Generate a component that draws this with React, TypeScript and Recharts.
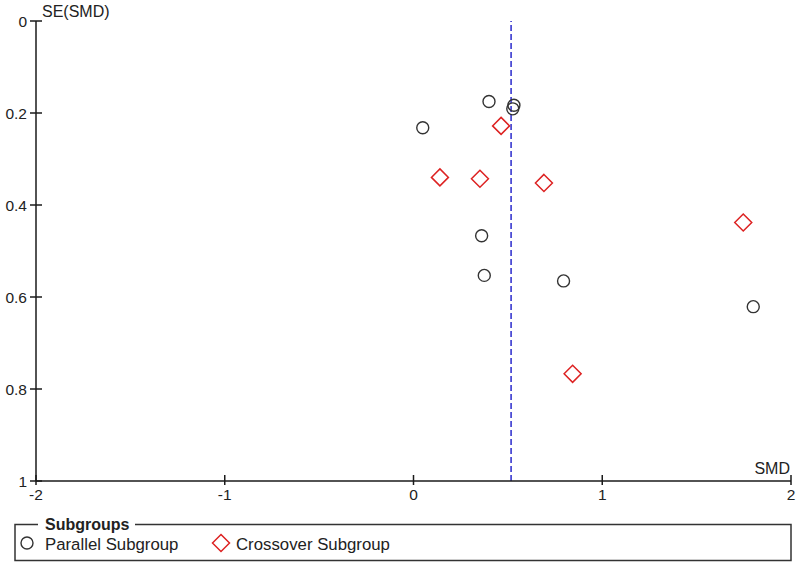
import React from 'react';
import { ScatterChart, Scatter, XAxis, YAxis, ReferenceLine } from 'recharts';

const parallelSMD = [0.4, 0.532, 0.526, 0.049, 0.361, 0.375, 0.795, 1.8];
const parallelSE = [0.175, 0.183, 0.191, 0.232, 0.467, 0.553, 0.565, 0.621];
const crossoverSMD = [0.464, 0.14, 0.352, 0.691, 1.747, 0.843];
const crossoverSE = [0.228, 0.34, 0.343, 0.352, 0.438, 0.767];
const pooledSMD = 0.517;
const xTicks = [-2, -1, 0, 1, 2];
const yTicks = [0, 0.2, 0.4, 0.6, 0.8, 1];
const seriesNames = ['Parallel Subgroup', 'Crossover Subgroup'];
const legendTitle = 'Subgroups';
const xTitle = 'SMD';
const yTitle = 'SE(SMD)';

const parallelData = parallelSMD.map((x, i) => ({ x, y: parallelSE[i] }));
const crossoverData = crossoverSMD.map((x, i) => ({ x, y: crossoverSE[i] }));

const FONT = '"Liberation Sans", Arial, sans-serif';
const TEXT = '#222';
const AXIS = '#1a1a1a';
const RED = '#dd2222';
const CIRCLE = '#333';
const BLUE = '#2a2acc';

const CircleShape = (p: any) => (
  <circle cx={p.cx} cy={p.cy} r={6} fill="none" stroke={CIRCLE} strokeWidth={1.4} />
);
const DiamondShape = (p: any) => {
  const s = 8.5;
  return (
    <path
      d={`M${p.cx},${p.cy - s}L${p.cx + s},${p.cy}L${p.cx},${p.cy + s}L${p.cx - s},${p.cy}Z`}
      fill="none"
      stroke={RED}
      strokeWidth={1.5}
    />
  );
};

const YTick = (p: any) => (
  <g>
    <line x1={p.x - 6} x2={p.x + 6} y1={p.y} y2={p.y} stroke={AXIS} strokeWidth={1.5} />
    <text x={p.x - 9} y={p.y + 5.5} textAnchor="end" fontSize={15.5} fontFamily={FONT} fill={TEXT}>
      {String(p.payload.value)}
    </text>
  </g>
);
const XTick = (p: any) => (
  <g>
    <line x1={p.x} x2={p.x} y1={p.y - 6} y2={p.y + 4} stroke={AXIS} strokeWidth={1.5} />
    <text x={p.x} y={p.y + 19} textAnchor="middle" fontSize={15.5} fontFamily={FONT} fill={TEXT}>
      {String(p.payload.value)}
    </text>
  </g>
);

const XTitle = (p: any) => {
  const vb = p.viewBox || {};
  return (
    <text x={vb.x + vb.width - 1} y={vb.y - 7} textAnchor="end" fontSize={16} fontFamily={FONT} fill={TEXT}>
      {xTitle}
    </text>
  );
};
const YTitle = (p: any) => {
  const vb = p.viewBox || {};
  return (
    <text x={vb.x + vb.width + 6} y={vb.y - 4} textAnchor="start" fontSize={16} fontFamily={FONT} fill={TEXT}>
      {yTitle}
    </text>
  );
};

export default function App() {
  return (
    <div style={{ position: 'absolute', left: 0, top: 0, width: 800, height: 567, background: '#fff' }}>
      <ScatterChart width={800} height={567} margin={{ top: 21, right: 9, bottom: 56, left: 0 }}>
        <XAxis
          type="number"
          dataKey="x"
          domain={[-2, 2]}
          ticks={xTicks}
          allowDataOverflow
          height={30}
          tickSize={0}
          tickMargin={0}
          tickLine={false}
          tick={<XTick />}
          axisLine={{ stroke: AXIS, strokeWidth: 1.5 }}
          label={{ content: (p: any) => <XTitle {...p} /> }}
        />
        <YAxis
          type="number"
          dataKey="y"
          domain={[0, 1]}
          ticks={yTicks}
          reversed
          allowDataOverflow
          width={36}
          tickSize={0}
          tickMargin={0}
          tickLine={false}
          tick={<YTick />}
          axisLine={{ stroke: AXIS, strokeWidth: 1.5 }}
          label={{ content: (p: any) => <YTitle {...p} /> }}
        />
        <ReferenceLine x={pooledSMD} stroke={BLUE} strokeWidth={1.5} strokeDasharray="6 3" />
        <Scatter name={seriesNames[0]} data={parallelData} shape={CircleShape} isAnimationActive={false} />
        <Scatter name={seriesNames[1]} data={crossoverData} shape={DiamondShape} isAnimationActive={false} />
      </ScatterChart>
      <svg width={800} height={567} style={{ position: 'absolute', left: 0, top: 0, pointerEvents: 'none' }}>
        <rect x={15} y={524.5} width={776} height={36} fill="none" stroke="#333" strokeWidth={1.5} />
        <rect x={38} y={516} width={97} height={16} fill="#fff" />
        <text x={45} y={530} fontSize={16} fontWeight="bold" fontFamily={FONT} fill={TEXT}>
          {legendTitle}
        </text>
        <circle cx={27} cy={543} r={6} fill="none" stroke={CIRCLE} strokeWidth={1.4} />
        <text x={45} y={549.5} fontSize={16.8} fontFamily={FONT} fill={TEXT}>
          {seriesNames[0]}
        </text>
        <path d="M221,534.5L229.5,543L221,551.5L212.5,543Z" fill="none" stroke={RED} strokeWidth={1.5} />
        <text x={236} y={549.5} fontSize={16.8} fontFamily={FONT} fill={TEXT}>
          {seriesNames[1]}
        </text>
      </svg>
    </div>
  );
}
